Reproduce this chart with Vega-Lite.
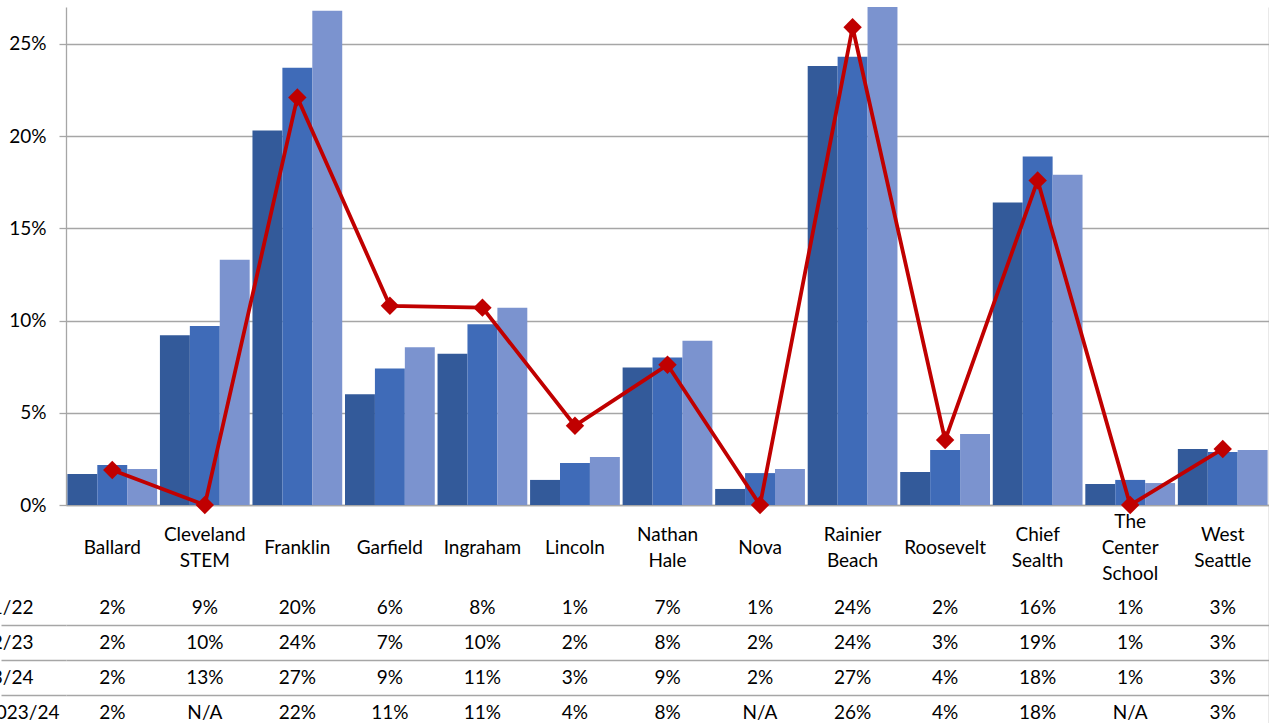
{
  "$schema": "https://vega.github.io/schema/vega-lite/v6.json",
  "autosize": {"type": "pad"},
  "padding": {"left": -42, "top": 7, "right": 0, "bottom": 0},
  "background": "white",
  "bounds": "flush",
  "spacing": 0,
  "config": {
    "view": {"stroke": null},
    "font": "Lato",
    "axis": {"labelFont": "Lato", "labelFontSize": 19, "labelColor": "#000000"},
    "text": {"font": "Lato", "fontSize": 19, "fill": "#000000"}
  },
  "datasets": {
    "rates": [
      {"school": "Ballard", "series": "2021/22", "value": 0.0168},
      {"school": "Ballard", "series": "2022/23", "value": 0.0217},
      {"school": "Ballard", "series": "2023/24", "value": 0.0195},
      {"school": "Ballard", "series": "2023/24 (line)", "value": 0.019},
      {"school": "Cleveland STEM", "series": "2021/22", "value": 0.092},
      {"school": "Cleveland STEM", "series": "2022/23", "value": 0.097},
      {"school": "Cleveland STEM", "series": "2023/24", "value": 0.133},
      {"school": "Cleveland STEM", "series": "2023/24 (line)", "value": null},
      {"school": "Franklin", "series": "2021/22", "value": 0.203},
      {"school": "Franklin", "series": "2022/23", "value": 0.237},
      {"school": "Franklin", "series": "2023/24", "value": 0.268},
      {"school": "Franklin", "series": "2023/24 (line)", "value": 0.221},
      {"school": "Garfield", "series": "2021/22", "value": 0.060},
      {"school": "Garfield", "series": "2022/23", "value": 0.074},
      {"school": "Garfield", "series": "2023/24", "value": 0.0855},
      {"school": "Garfield", "series": "2023/24 (line)", "value": 0.108},
      {"school": "Ingraham", "series": "2021/22", "value": 0.082},
      {"school": "Ingraham", "series": "2022/23", "value": 0.098},
      {"school": "Ingraham", "series": "2023/24", "value": 0.107},
      {"school": "Ingraham", "series": "2023/24 (line)", "value": 0.107},
      {"school": "Lincoln", "series": "2021/22", "value": 0.0136},
      {"school": "Lincoln", "series": "2022/23", "value": 0.0228},
      {"school": "Lincoln", "series": "2023/24", "value": 0.026},
      {"school": "Lincoln", "series": "2023/24 (line)", "value": 0.043},
      {"school": "Nathan Hale", "series": "2021/22", "value": 0.0745},
      {"school": "Nathan Hale", "series": "2022/23", "value": 0.080},
      {"school": "Nathan Hale", "series": "2023/24", "value": 0.089},
      {"school": "Nathan Hale", "series": "2023/24 (line)", "value": 0.076},
      {"school": "Nova", "series": "2021/22", "value": 0.0087},
      {"school": "Nova", "series": "2022/23", "value": 0.0173},
      {"school": "Nova", "series": "2023/24", "value": 0.0195},
      {"school": "Nova", "series": "2023/24 (line)", "value": null},
      {"school": "Rainier Beach", "series": "2021/22", "value": 0.238},
      {"school": "Rainier Beach", "series": "2022/23", "value": 0.243},
      {"school": "Rainier Beach", "series": "2023/24", "value": 0.272},
      {"school": "Rainier Beach", "series": "2023/24 (line)", "value": 0.259},
      {"school": "Roosevelt", "series": "2021/22", "value": 0.0179},
      {"school": "Roosevelt", "series": "2022/23", "value": 0.0298},
      {"school": "Roosevelt", "series": "2023/24", "value": 0.0385},
      {"school": "Roosevelt", "series": "2023/24 (line)", "value": 0.0352},
      {"school": "Chief Sealth", "series": "2021/22", "value": 0.164},
      {"school": "Chief Sealth", "series": "2022/23", "value": 0.189},
      {"school": "Chief Sealth", "series": "2023/24", "value": 0.179},
      {"school": "Chief Sealth", "series": "2023/24 (line)", "value": 0.176},
      {"school": "The Center School", "series": "2021/22", "value": 0.0114},
      {"school": "The Center School", "series": "2022/23", "value": 0.0136},
      {"school": "The Center School", "series": "2023/24", "value": 0.0119},
      {"school": "The Center School", "series": "2023/24 (line)", "value": null},
      {"school": "West Seattle", "series": "2021/22", "value": 0.0304},
      {"school": "West Seattle", "series": "2022/23", "value": 0.0287},
      {"school": "West Seattle", "series": "2023/24", "value": 0.0298},
      {"school": "West Seattle", "series": "2023/24 (line)", "value": 0.0304}
    ]
  },
  "vconcat": [
    {
      "width": 1203,
      "height": 498,
      "data": {"name": "rates"},
      "layer": [
        {
          "transform": [{"filter": "datum.series !== '2023/24 (line)'"}],
          "mark": {"type": "bar", "clip": true},
          "encoding": {
            "x": {
              "field": "school", "type": "nominal",
              "scale": {"domain": ["Ballard", "Cleveland STEM", "Franklin", "Garfield", "Ingraham", "Lincoln", "Nathan Hale", "Nova", "Rainier Beach", "Roosevelt", "Chief Sealth", "The Center School", "West Seattle"], "paddingInner": 0.03, "paddingOuter": 0.015},
              "axis": {"title": null, "labels": false, "ticks": false, "domain": true, "domainColor": "#A6A6A6", "domainWidth": 1.5}
            },
            "xOffset": {
              "field": "series", "type": "nominal",
              "scale": {"domain": ["2021/22", "2022/23", "2023/24"], "paddingInner": 0, "paddingOuter": 0}
            },
            "y": {
              "field": "value", "type": "quantitative",
              "scale": {"domain": [0, 0.27], "nice": false, "zero": true},
              "axis": {
                "title": null, "values": [0, 0.05, 0.1, 0.15, 0.2, 0.25], "format": ".0%",
                "grid": true, "gridColor": "#A6A6A6", "gridWidth": 1.3,
                "tickSize": 7, "tickColor": "#A6A6A6", "tickWidth": 1.3,
                "domain": true, "domainColor": "#A6A6A6", "domainWidth": 1.3,
                "labelPadding": 13
              }
            },
            "color": {
              "field": "series", "type": "nominal",
              "scale": {"domain": ["2021/22", "2022/23", "2023/24"], "range": ["#335A9A", "#3F6BB8", "#7B93CF"]},
              "legend": null
            }
          }
        },
        {
          "transform": [{"filter": "datum.series === '2023/24 (line)'"}],
          "mark": {"type": "line", "color": "#C00000", "strokeWidth": 3.8, "invalid": "show"},
          "encoding": {
            "x": {"field": "school", "type": "nominal"},
            "y": {
              "field": "value", "type": "quantitative",
              "axis": {"orient": "right", "title": null, "labels": false, "ticks": false, "grid": false, "domain": true, "domainColor": "#A6A6A6", "domainWidth": 1.5}
            }
          }
        },
        {
          "transform": [{"filter": "datum.series === '2023/24 (line)'"}],
          "mark": {"type": "point", "shape": "diamond", "size": 340, "filled": true, "color": "#C00000", "opacity": 1, "invalid": "show"},
          "encoding": {
            "x": {"field": "school", "type": "nominal"},
            "y": {"field": "value", "type": "quantitative", "axis": null}
          }
        }
      ],
      "resolve": {"axis": {"y": "independent"}}
    },
    {
      "width": 1203,
      "height": 85,
      "data": {"name": "rates"},
      "transform": [{"filter": "datum.series === '2021/22'"}],
      "mark": {
        "type": "text", "lineBreak": " ", "lineHeight": 26, "baseline": "middle", "align": "center",
        "dy": {"expr": "-13 * (length(split(datum.school, ' ')) - 1)"}
      },
      "encoding": {
        "x": {
          "field": "school", "type": "nominal",
          "scale": {"domain": ["Ballard", "Cleveland STEM", "Franklin", "Garfield", "Ingraham", "Lincoln", "Nathan Hale", "Nova", "Rainier Beach", "Roosevelt", "Chief Sealth", "The Center School", "West Seattle"], "paddingInner": 0.03, "paddingOuter": 0.015},
          "axis": null
        },
        "y": {
          "datum": "School", "type": "nominal",
          "scale": {"type": "band", "paddingInner": 0, "paddingOuter": 0},
          "axis": {"orient": "right", "title": null, "labels": false, "ticks": false, "grid": false, "domain": true, "domainColor": "#A6A6A6", "domainWidth": 1.5}
        },
        "text": {"field": "school"}
      }
    },
    {
      "width": 1203,
      "height": 140,
      "data": {"name": "rates"},
      "layer": [
        {
          "transform": [{"filter": "datum.series !== '2023/24 (line)'"}],
          "mark": {"type": "text", "baseline": "middle", "align": "center"},
          "encoding": {
            "x": {
              "field": "school", "type": "nominal",
              "scale": {"domain": ["Ballard", "Cleveland STEM", "Franklin", "Garfield", "Ingraham", "Lincoln", "Nathan Hale", "Nova", "Rainier Beach", "Roosevelt", "Chief Sealth", "The Center School", "West Seattle"], "paddingInner": 0.03, "paddingOuter": 0.015},
              "axis": null
            },
            "y": {
              "field": "series", "type": "nominal",
              "scale": {"type": "band", "domain": ["2021/22", "2022/23", "2023/24", "2023/24 (line)"], "paddingInner": 0, "paddingOuter": 0},
              "axis": {
                "title": null, "orient": "left", "bandPosition": 0, "domain": false,
                "ticks": true, "tickSize": 65, "tickColor": "#A6A6A6", "tickWidth": 1.5,
                "tickOpacity": {"condition": {"test": "datum.value === '2021/22'", "value": 0}, "value": 1},
                "grid": true, "gridColor": "#A6A6A6", "gridWidth": 1.5,
                "gridOpacity": {"condition": {"test": "datum.value === '2021/22'", "value": 0}, "value": 1},
                "labelAlign": "right", "labelBaseline": "middle",
                "labelPadding": {"condition": {"test": "datum.value === '2023/24 (line)'", "value": -58}, "value": -32},
                "labelExpr": "replace(datum.value, ' (line)', '')",
                "labelOverlap": false
              }
            },
            "text": {"field": "value", "type": "quantitative", "format": ".0%"}
          }
        },
        {
          "transform": [{"filter": "datum.series === '2023/24 (line)'"}],
          "mark": {"type": "text", "baseline": "middle", "align": "center"},
          "encoding": {
            "x": {"field": "school", "type": "nominal"},
            "y": {
              "field": "series", "type": "nominal",
              "axis": {"orient": "right", "title": null, "labels": false, "ticks": false, "grid": false, "domain": true, "domainColor": "#A6A6A6", "domainWidth": 1.5}
            },
            "text": {
              "condition": {"test": "datum.value === null", "value": "N/A"},
              "field": "value", "type": "quantitative", "format": ".0%"
            }
          }
        }
      ],
      "resolve": {"axis": {"y": "independent"}}
    }
  ]
}
